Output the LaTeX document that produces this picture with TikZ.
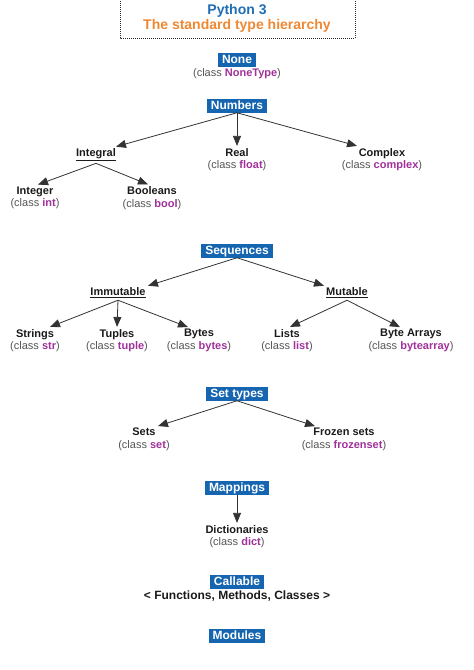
\documentclass[tikz,border=0pt]{standalone}
\usepackage{fontspec}
\setmainfont{Liberation Sans}
\usetikzlibrary{arrows.meta}
\definecolor{boxblue}{HTML}{1565B0}
\definecolor{titleblue}{HTML}{1F6DB5}
\definecolor{titleorange}{HTML}{EE8833}
\definecolor{classpurple}{HTML}{A0309A}
\definecolor{classgray}{HTML}{555555}
\definecolor{labelblack}{HTML}{1A1A1A}
\newcommand{\cls}[1]{{\mdseries\color{classgray}(class \textcolor{classpurple}{\bfseries #1})}}
\tikzset{
	typebox/.style={fill=boxblue, text=white, font=\fontsize{12}{14}\selectfont\bfseries, inner xsep=4pt, inner ysep=0.8pt, text height=9pt, text depth=2.5pt},
	kind/.style={font=\fontsize{11}{12.5}\selectfont\bfseries, align=center, text=labelblack, inner sep=2pt},
	link/.style={draw=black!80, line width=0.8pt, -{Triangle[length=10pt,width=8pt]}},
}

\begin{document}
\begin{tikzpicture}[x=1pt,y=-1pt]
		%%%%% START %%%%%
		\useasboundingbox (0,0) rectangle (474,670);
		
		\draw[black!85, line width=1pt, dash pattern=on 1pt off 1pt] (120,-3) rectangle (355,38);
		\node[align=center, font=\fontsize{14}{15}\selectfont\bfseries] (title) at (237,18.5) {\textcolor{titleblue}{Python 3}\\\textcolor{titleorange}{The standard type hierarchy}};
		
		\node[typebox] (none) at (237,60) {None};
		\node[kind] (nonetype) at (237,74) {\cls{NoneType}};
		
		\node[typebox] (numbers) at (237,106) {Numbers};
		\node[kind] (integral) at (96,155) {\underline{Integral}};
		\node[kind] (real) at (237,159.5) {Real\\\cls{float}};
		\node[kind] (complex) at (382,159.5) {Complex\\\cls{complex}};
		\node[kind] (integer) at (35,198) {Integer\\\cls{int}};
		\node[kind] (booleans) at (152,198) {Booleans\\\cls{bool}};
		
		\draw[link] (numbers.south) -- ([xshift=20]integral.north);
		\draw[link] (numbers.south) -- (real.north);
		\draw[link] (numbers.south) -- ([xshift=-25]complex.north);
		\draw[link] (integral.south) -- ([xshift=3]integer.north);
		\draw[link] (integral.south) -- ([xshift=-4]booleans.north);
		
		\node[typebox] (sequences) at (237,251) {Sequences};
		\node[kind] (immutable) at (118,293) {\underline{Immutable}};
		\node[kind] (mutable) at (347,293) {\underline{Mutable}};
		\node[kind] (strings) at (35,340.5) {Strings\\\cls{str}};
		\node[kind] (tuples) at (117,340.5) {Tuples\\\cls{tuple}};
		\node[kind] (bytes) at (199,340.5) {Bytes\\\cls{bytes}};
		\node[kind] (lists) at (287,340.5) {Lists\\\cls{list}};
		\node[kind] (bytearrays) at (411,340.5) {Byte Arrays\\\cls{bytearray}};
		
		\draw[link] (sequences.south) -- ([xshift=30]immutable.north);
		\draw[link] (sequences.south) -- ([xshift=-23]mutable.north);
		\draw[link] (immutable.south) -- ([xshift=15]strings.north);
		\draw[link] (immutable.south) -- (tuples.north);
		\draw[link] (immutable.south) -- ([xshift=-11]bytes.north);
		\draw[link] (mutable.south) -- ([xshift=3]lists.north);
		\draw[link] (mutable.south) -- ([xshift=-11]bytearrays.north);
		
		\node[typebox] (settypes) at (237,394) {Set types};
		\node[kind] (sets) at (144,439.5) {Sets\\\cls{set}};
		\node[kind] (frozensets) at (344,439.5) {Frozen sets\\\cls{frozenset}};
		
		\draw[link] (settypes.south) -- ([xshift=14]sets.north);
		\draw[link] (settypes.south) -- ([xshift=-29]frozensets.north);
		
		\node[typebox] (mappings) at (237,488) {Mappings};
		\node[kind] (dicts) at (237,536.5) {Dictionaries\\\cls{dict}};
		
		\draw[link] (mappings.south) -- (dicts.north);
		
		\node[typebox] (callable) at (237,582) {Callable};
		\node[kind, font=\fontsize{12}{14}\selectfont\bfseries] (callables) at (237,596.5) {< Functions, Methods, Classes >};
		
		\node[typebox] (modules) at (237,636) {Modules};
		%%%%% END %%%%%
	\end{tikzpicture}
\end{document}
